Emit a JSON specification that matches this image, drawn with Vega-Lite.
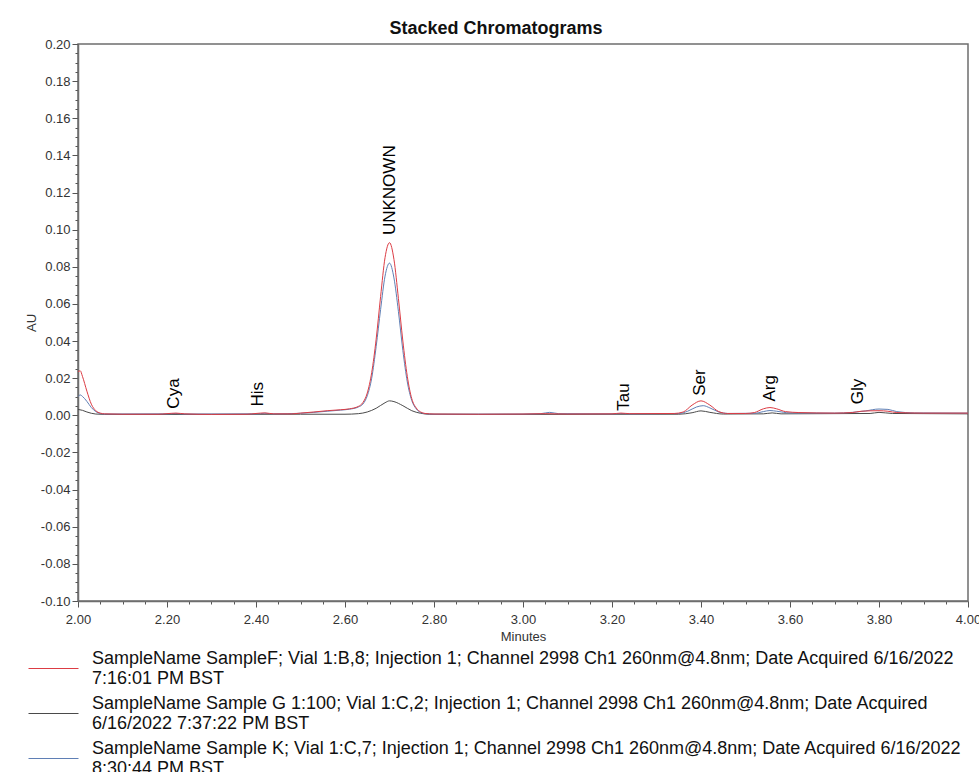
{
  "$schema": "https://vega.github.io/schema/vega-lite/v6.json",
  "width": 890,
  "height": 557,
  "autosize": {"type": "none"},
  "padding": {"left": 78, "top": 44, "right": 11, "bottom": 171},
  "background": "white",
  "title": {"text": "Stacked Chromatograms", "font": "Liberation Sans", "fontSize": 18, "fontWeight": "bold", "color": "#111111", "anchor": "middle", "dx": -27, "offset": 0},
  "config": {
    "view": {"stroke": "#6e6e6e", "strokeWidth": 1.5},
    "font": "Liberation Sans",
    "axis": {"labelFontSize": 13, "titleFontSize": 13, "titleFontWeight": "normal", "labelOverlap": false, "labelFlush": false, "labelColor": "#333333", "titleColor": "#333333", "grid": false, "domainColor": "#6e6e6e", "domainWidth": 1.5, "tickColor": "#555555"}
  },
  "datasets": {
    "samples": [
      {"s": "F", "rank": 1, "label": "SampleName SampleF; Vial 1:B,8; Injection 1; Channel 2998 Ch1 260nm@4.8nm; Date Acquired 6/16/2022\n7:16:01 PM BST"},
      {"s": "G", "rank": 2, "label": "SampleName Sample G 1:100; Vial 1:C,2; Injection 1; Channel 2998 Ch1 260nm@4.8nm; Date Acquired\n6/16/2022 7:37:22 PM BST"},
      {"s": "K", "rank": 3, "label": "SampleName Sample K; Vial 1:C,7; Injection 1; Channel 2998 Ch1 260nm@4.8nm; Date Acquired 6/16/2022\n8:30:44 PM BST"}
    ],
    "peaks": [
      {"name": "Cya", "t": 2.216, "au": 0.0036},
      {"name": "His", "t": 2.405, "au": 0.0047},
      {"name": "UNKNOWN", "t": 2.70, "au": 0.0971},
      {"name": "Tau", "t": 3.227, "au": 0.0025},
      {"name": "Ser", "t": 3.398, "au": 0.0105},
      {"name": "Arg", "t": 3.555, "au": 0.0074},
      {"name": "Gly", "t": 3.752, "au": 0.006}
    ],
    "traces": [
      {"s": "G", "t": 2.000, "au": 0.0032},
      {"s": "G", "t": 2.010, "au": 0.0027},
      {"s": "G", "t": 2.020, "au": 0.0018},
      {"s": "G", "t": 2.030, "au": 0.0011},
      {"s": "G", "t": 2.040, "au": 0.0007},
      {"s": "G", "t": 2.060, "au": 0.0005},
      {"s": "G", "t": 2.300, "au": 0.0005},
      {"s": "G", "t": 2.500, "au": 0.0006},
      {"s": "G", "t": 2.600, "au": 0.0006},
      {"s": "G", "t": 2.630, "au": 0.0009},
      {"s": "G", "t": 2.650, "au": 0.0018},
      {"s": "G", "t": 2.670, "au": 0.0038},
      {"s": "G", "t": 2.690, "au": 0.0068},
      {"s": "G", "t": 2.700, "au": 0.0078},
      {"s": "G", "t": 2.710, "au": 0.0074},
      {"s": "G", "t": 2.730, "au": 0.0052},
      {"s": "G", "t": 2.750, "au": 0.0025},
      {"s": "G", "t": 2.770, "au": 0.0011},
      {"s": "G", "t": 2.790, "au": 0.0006},
      {"s": "G", "t": 2.900, "au": 0.0005},
      {"s": "G", "t": 3.350, "au": 0.0006},
      {"s": "G", "t": 3.380, "au": 0.0014},
      {"s": "G", "t": 3.400, "au": 0.0024},
      {"s": "G", "t": 3.420, "au": 0.0016},
      {"s": "G", "t": 3.450, "au": 0.0007},
      {"s": "G", "t": 3.540, "au": 0.0008},
      {"s": "G", "t": 3.560, "au": 0.0013},
      {"s": "G", "t": 3.580, "au": 0.0008},
      {"s": "G", "t": 3.780, "au": 0.0010},
      {"s": "G", "t": 3.800, "au": 0.0016},
      {"s": "G", "t": 3.830, "au": 0.0010},
      {"s": "G", "t": 4.000, "au": 0.0008},

      {"s": "K", "t": 2.000, "au": 0.0100},
      {"s": "K", "t": 2.005, "au": 0.0110},
      {"s": "K", "t": 2.010, "au": 0.0102},
      {"s": "K", "t": 2.020, "au": 0.0075},
      {"s": "K", "t": 2.030, "au": 0.0042},
      {"s": "K", "t": 2.040, "au": 0.0020},
      {"s": "K", "t": 2.050, "au": 0.0010},
      {"s": "K", "t": 2.060, "au": 0.0007},
      {"s": "K", "t": 2.200, "au": 0.0008},
      {"s": "K", "t": 2.220, "au": 0.0010},
      {"s": "K", "t": 2.240, "au": 0.0007},
      {"s": "K", "t": 2.400, "au": 0.0008},
      {"s": "K", "t": 2.420, "au": 0.0011},
      {"s": "K", "t": 2.440, "au": 0.0008},
      {"s": "K", "t": 2.500, "au": 0.0011},
      {"s": "K", "t": 2.530, "au": 0.0016},
      {"s": "K", "t": 2.560, "au": 0.0022},
      {"s": "K", "t": 2.590, "au": 0.0028},
      {"s": "K", "t": 2.610, "au": 0.0033},
      {"s": "K", "t": 2.630, "au": 0.0045},
      {"s": "K", "t": 2.640, "au": 0.0060},
      {"s": "K", "t": 2.650, "au": 0.0105},
      {"s": "K", "t": 2.660, "au": 0.0200},
      {"s": "K", "t": 2.670, "au": 0.0370},
      {"s": "K", "t": 2.680, "au": 0.0570},
      {"s": "K", "t": 2.690, "au": 0.0750},
      {"s": "K", "t": 2.700, "au": 0.0820},
      {"s": "K", "t": 2.710, "au": 0.0740},
      {"s": "K", "t": 2.720, "au": 0.0560},
      {"s": "K", "t": 2.730, "au": 0.0350},
      {"s": "K", "t": 2.740, "au": 0.0180},
      {"s": "K", "t": 2.750, "au": 0.0080},
      {"s": "K", "t": 2.760, "au": 0.0035},
      {"s": "K", "t": 2.770, "au": 0.0015},
      {"s": "K", "t": 2.780, "au": 0.0009},
      {"s": "K", "t": 2.800, "au": 0.0006},
      {"s": "K", "t": 3.000, "au": 0.0007},
      {"s": "K", "t": 3.040, "au": 0.0009},
      {"s": "K", "t": 3.060, "au": 0.0016},
      {"s": "K", "t": 3.080, "au": 0.0009},
      {"s": "K", "t": 3.200, "au": 0.0008},
      {"s": "K", "t": 3.220, "au": 0.0010},
      {"s": "K", "t": 3.240, "au": 0.0008},
      {"s": "K", "t": 3.350, "au": 0.0010},
      {"s": "K", "t": 3.370, "au": 0.0022},
      {"s": "K", "t": 3.390, "au": 0.0045},
      {"s": "K", "t": 3.405, "au": 0.0052},
      {"s": "K", "t": 3.420, "au": 0.0040},
      {"s": "K", "t": 3.440, "au": 0.0018},
      {"s": "K", "t": 3.460, "au": 0.0010},
      {"s": "K", "t": 3.520, "au": 0.0011},
      {"s": "K", "t": 3.540, "au": 0.0020},
      {"s": "K", "t": 3.555, "au": 0.0026},
      {"s": "K", "t": 3.570, "au": 0.0022},
      {"s": "K", "t": 3.600, "au": 0.0013},
      {"s": "K", "t": 3.700, "au": 0.0012},
      {"s": "K", "t": 3.740, "au": 0.0016},
      {"s": "K", "t": 3.770, "au": 0.0024},
      {"s": "K", "t": 3.800, "au": 0.0034},
      {"s": "K", "t": 3.820, "au": 0.0032},
      {"s": "K", "t": 3.840, "au": 0.0020},
      {"s": "K", "t": 3.880, "au": 0.0013},
      {"s": "K", "t": 4.000, "au": 0.0012},

      {"s": "F", "t": 2.000, "au": 0.0235},
      {"s": "F", "t": 2.005, "au": 0.0240},
      {"s": "F", "t": 2.010, "au": 0.0210},
      {"s": "F", "t": 2.020, "au": 0.0130},
      {"s": "F", "t": 2.030, "au": 0.0060},
      {"s": "F", "t": 2.040, "au": 0.0025},
      {"s": "F", "t": 2.050, "au": 0.0012},
      {"s": "F", "t": 2.060, "au": 0.0008},
      {"s": "F", "t": 2.100, "au": 0.0006},
      {"s": "F", "t": 2.180, "au": 0.0006},
      {"s": "F", "t": 2.200, "au": 0.0009},
      {"s": "F", "t": 2.220, "au": 0.0012},
      {"s": "F", "t": 2.240, "au": 0.0008},
      {"s": "F", "t": 2.300, "au": 0.0005},
      {"s": "F", "t": 2.380, "au": 0.0006},
      {"s": "F", "t": 2.400, "au": 0.0010},
      {"s": "F", "t": 2.420, "au": 0.0013},
      {"s": "F", "t": 2.440, "au": 0.0008},
      {"s": "F", "t": 2.480, "au": 0.0008},
      {"s": "F", "t": 2.500, "au": 0.0012},
      {"s": "F", "t": 2.530, "au": 0.0018},
      {"s": "F", "t": 2.560, "au": 0.0025},
      {"s": "F", "t": 2.590, "au": 0.0030},
      {"s": "F", "t": 2.610, "au": 0.0035},
      {"s": "F", "t": 2.630, "au": 0.0048},
      {"s": "F", "t": 2.640, "au": 0.0068},
      {"s": "F", "t": 2.650, "au": 0.0120},
      {"s": "F", "t": 2.660, "au": 0.0230},
      {"s": "F", "t": 2.670, "au": 0.0410},
      {"s": "F", "t": 2.680, "au": 0.0640},
      {"s": "F", "t": 2.690, "au": 0.0850},
      {"s": "F", "t": 2.700, "au": 0.0930},
      {"s": "F", "t": 2.710, "au": 0.0840},
      {"s": "F", "t": 2.720, "au": 0.0630},
      {"s": "F", "t": 2.730, "au": 0.0400},
      {"s": "F", "t": 2.740, "au": 0.0210},
      {"s": "F", "t": 2.750, "au": 0.0090},
      {"s": "F", "t": 2.760, "au": 0.0040},
      {"s": "F", "t": 2.770, "au": 0.0018},
      {"s": "F", "t": 2.780, "au": 0.0010},
      {"s": "F", "t": 2.800, "au": 0.0007},
      {"s": "F", "t": 2.900, "au": 0.0006},
      {"s": "F", "t": 3.000, "au": 0.0007},
      {"s": "F", "t": 3.050, "au": 0.0009},
      {"s": "F", "t": 3.070, "au": 0.0008},
      {"s": "F", "t": 3.100, "au": 0.0007},
      {"s": "F", "t": 3.200, "au": 0.0008},
      {"s": "F", "t": 3.220, "au": 0.0012},
      {"s": "F", "t": 3.240, "au": 0.0009},
      {"s": "F", "t": 3.340, "au": 0.0010},
      {"s": "F", "t": 3.360, "au": 0.0018},
      {"s": "F", "t": 3.380, "au": 0.0055},
      {"s": "F", "t": 3.400, "au": 0.0078},
      {"s": "F", "t": 3.420, "au": 0.0055},
      {"s": "F", "t": 3.440, "au": 0.0020},
      {"s": "F", "t": 3.460, "au": 0.0010},
      {"s": "F", "t": 3.500, "au": 0.0010},
      {"s": "F", "t": 3.520, "au": 0.0015},
      {"s": "F", "t": 3.540, "au": 0.0035},
      {"s": "F", "t": 3.555, "au": 0.0042},
      {"s": "F", "t": 3.570, "au": 0.0035},
      {"s": "F", "t": 3.590, "au": 0.0020},
      {"s": "F", "t": 3.620, "au": 0.0015},
      {"s": "F", "t": 3.700, "au": 0.0012},
      {"s": "F", "t": 3.740, "au": 0.0015},
      {"s": "F", "t": 3.760, "au": 0.0022},
      {"s": "F", "t": 3.800, "au": 0.0025},
      {"s": "F", "t": 3.820, "au": 0.0022},
      {"s": "F", "t": 3.840, "au": 0.0015},
      {"s": "F", "t": 3.900, "au": 0.0012},
      {"s": "F", "t": 4.000, "au": 0.0012}
    ]
  },
  "encoding": {
    "x": {
      "field": "t", "type": "quantitative",
      "scale": {"domain": [2, 4], "nice": false, "zero": false},
      "axis": {
        "title": "Minutes", "titleFontSize": 13, "titleFontWeight": "normal", "titlePadding": 4,
        "values": [2.0, 2.05, 2.1, 2.15, 2.2, 2.25, 2.3, 2.35, 2.4, 2.45, 2.5, 2.55, 2.6, 2.65, 2.7, 2.75, 2.8, 2.85, 2.9, 2.95, 3.0, 3.05, 3.1, 3.15, 3.2, 3.25, 3.3, 3.35, 3.4, 3.45, 3.5, 3.55, 3.6, 3.65, 3.7, 3.75, 3.8, 3.85, 3.9, 3.95, 4.0],
        "labelExpr": "abs(datum.value*5 - round(datum.value*5)) < 0.000001 ? format(datum.value, '.2f') : ''",
        "labelFlush": false, "labelOverlap": false, "labelFontSize": 13, "labelPadding": 6,
        "tickSize": {"condition": {"test": "abs(datum.value*5 - round(datum.value*5)) < 0.000001", "value": 6}, "value": 3}
      }
    },
    "y": {
      "field": "au", "type": "quantitative",
      "scale": {"domain": [-0.1, 0.2], "nice": false, "zero": false},
      "axis": {
        "title": "AU", "titleFontSize": 13, "titleFontWeight": "normal", "titlePadding": 2,
        "values": [-0.1, -0.095, -0.09, -0.085, -0.08, -0.075, -0.07, -0.065, -0.06, -0.055, -0.05, -0.045, -0.04, -0.035, -0.03, -0.025, -0.02, -0.015, -0.01, -0.005, 0, 0.005, 0.01, 0.015, 0.02, 0.025, 0.03, 0.035, 0.04, 0.045, 0.05, 0.055, 0.06, 0.065, 0.07, 0.075, 0.08, 0.085, 0.09, 0.095, 0.1, 0.105, 0.11, 0.115, 0.12, 0.125, 0.13, 0.135, 0.14, 0.145, 0.15, 0.155, 0.16, 0.165, 0.17, 0.175, 0.18, 0.185, 0.19, 0.195, 0.2],
        "labelExpr": "abs(datum.value*50 - round(datum.value*50)) < 0.000001 ? replace(format(datum.value, '.2f'), '\u2212', '-') : ''",
        "labelFlush": false, "labelOverlap": false, "labelFontSize": 13, "labelPadding": 2,
        "tickSize": {"condition": {"test": "abs(datum.value*50 - round(datum.value*50)) < 0.000001", "value": 6}, "value": 3}
      }
    }
  },
  "layer": [
    {
      "data": {"name": "traces"},
      "transform": [
        {"lookup": "s", "from": {"data": {"name": "samples"}, "key": "s", "fields": ["label", "rank"]}}
      ],
      "mark": {"type": "line", "interpolate": "monotone", "strokeWidth": 1, "clip": true},
      "encoding": {
        "color": {
          "field": "label", "type": "nominal",
          "sort": {"field": "rank", "op": "min"},
          "scale": {"range": ["#dc3c44", "#4a4a4a", "#5f7fb5"]},
          "legend": {
            "orient": "none", "legendX": -50, "legendY": 599, "title": null,
            "symbolType": "stroke", "symbolSize": 2500, "symbolStrokeWidth": 1,
            "symbolStrokeColor": {"expr": "scale('color', datum.value)"},
            "labelExpr": "split(datum.label, '\\n')",
            "labelFont": "Liberation Sans", "labelFontSize": 18, "labelColor": "#111111", "labelLimit": 2000,
            "labelOffset": 13, "rowPadding": -25, "padding": 0,
            "encode": {
              "labels": {"update": {"dy": {"value": -10}}}
            }
          }
        }
      }
    },
    {
      "data": {"name": "peaks"},
      "mark": {"type": "text", "angle": 270, "align": "left", "baseline": "middle", "font": "Liberation Sans", "fontSize": 17, "color": "#000000"},
      "encoding": {
        "text": {"field": "name", "type": "nominal"}
      }
    }
  ]
}
